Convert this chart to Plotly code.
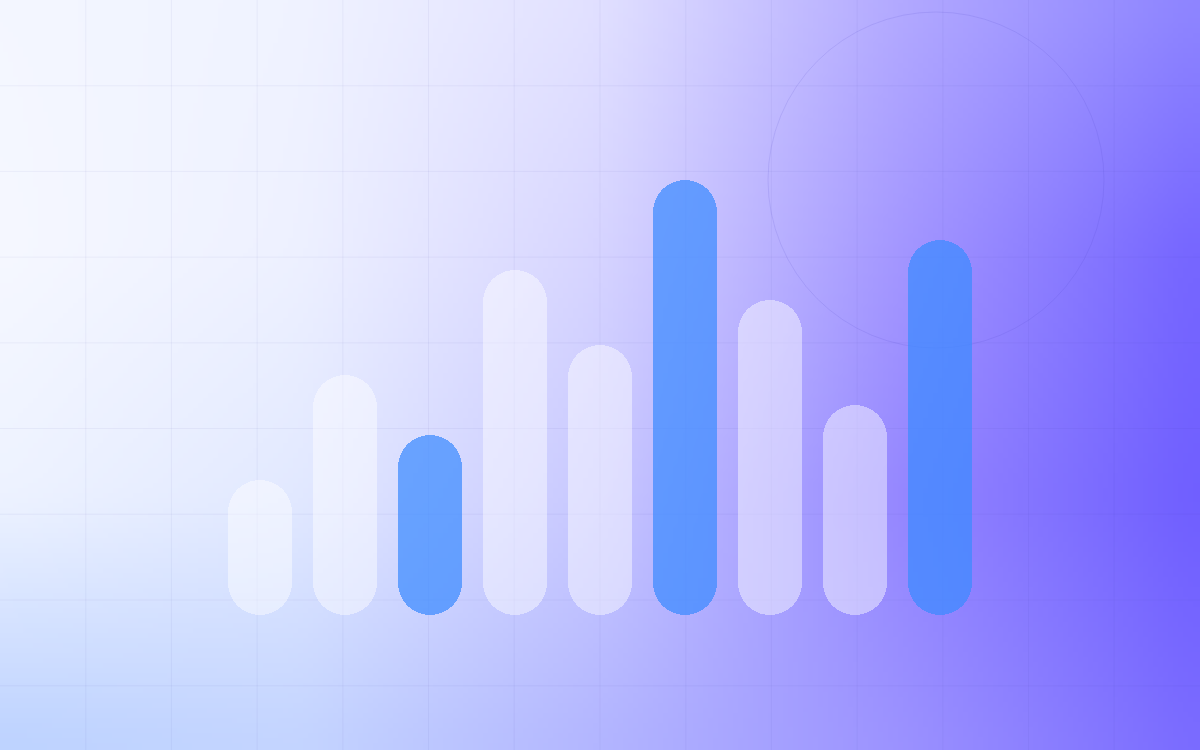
import base64
import struct
import zlib

import numpy as np
import plotly.graph_objects as go

# ---------------- data ----------------
categories = ["1", "2", "3", "4", "5", "6", "7", "8", "9"]
values = [45, 80, 60, 115, 90, 145, 105, 70, 125]
highlighted = [False, False, True, False, False, True, False, False, True]

# ---------------- styles ----------------
W, H = 1200, 750
BAR_PX = 64
STEP_PX = 85
FIRST_CENTER_PX = 260
BASELINE_PX = 615
PX_PER_UNIT = 3.0

BLUE = "rgba(60,138,255,0.72)"
WHITE = "rgba(255,255,255,0.45)"
GRID = "rgba(60,60,150,0.06)"
CIRCLE = "rgba(70,60,190,0.13)"

# background colour anchors (rows top->bottom, cols left->right)
bg_anchor_x = [0, 300, 600, 900, 1200]
bg_anchor_y = [0, 250, 500, 750]
bg_anchor_rgb = [
    [(244, 247, 255), (240, 243, 255), (226, 225, 255), (179, 170, 255), (142, 133, 255)],
    [(246, 248, 255), (238, 241, 255), (215, 213, 255), (164, 151, 255), (117, 101, 255)],
    [(238, 243, 255), (226, 233, 255), (200, 200, 255), (149, 135, 255), (111, 94, 255)],
    [(188, 210, 255), (195, 212, 255), (178, 181, 255), (156, 147, 255), (122, 107, 255)],
]


def build_background(w=240, h=150):
    ax = np.array(bg_anchor_x, float)
    ay = np.array(bg_anchor_y, float)
    A = np.array(bg_anchor_rgb, float)  # (ny, nx, 3)
    xs = np.linspace(0, W, w)
    ys = np.linspace(0, H, h)
    rows = np.stack([np.stack([np.interp(xs, ax, A[r, :, c]) for c in range(3)], -1)
                     for r in range(A.shape[0])])  # (ny, w, 3)
    img = np.stack([np.stack([np.interp(ys, ay, rows[:, i, c]) for i in range(w)], -1)
                    for c in range(3)], -1)  # (h, w, 3)
    for _ in range(6):
        p = np.pad(img, ((2, 2), (2, 2), (0, 0)), mode="edge")
        acc = np.zeros_like(img)
        for dy in range(5):
            for dx in range(5):
                acc += p[dy:dy + h, dx:dx + w]
        img = acc / 25.0
    return np.clip(img, 0, 255).astype(np.uint8)


def png_data_uri(arr):
    h, w, _ = arr.shape
    raw = b"".join(b"\x00" + arr[r].tobytes() for r in range(h))

    def chunk(t, d):
        c = struct.pack(">I", len(d)) + t + d
        return c + struct.pack(">I", zlib.crc32(t + d) & 0xFFFFFFFF)

    png = (b"\x89PNG\r\n\x1a\n"
           + chunk(b"IHDR", struct.pack(">IIBBBBB", w, h, 8, 2, 0, 0, 0))
           + chunk(b"IDAT", zlib.compress(raw, 9))
           + chunk(b"IEND", b""))
    return "data:image/png;base64," + base64.b64encode(png).decode()


# ---------------- figure ----------------
x_idx = list(range(len(categories)))
colors = [BLUE if h else WHITE for h in highlighted]
bar_width = BAR_PX / STEP_PX

fig = go.Figure()
# bars with an explicit base are rounded on both ends -> pill shapes
fig.add_trace(go.Bar(
    x=x_idx, y=values, base=[0 for _ in values],
    width=bar_width, marker=dict(color=colors, line=dict(width=0), cornerradius="50%"),
    hovertext=[f"{c}: {v}" for c, v in zip(categories, values)], hoverinfo="text",
    showlegend=False,
))

shapes = []
cell = W / 14
k = 1
while k * cell < W:
    shapes.append(dict(type="line", xref="paper", yref="paper",
                       x0=k * cell / W, x1=k * cell / W, y0=0, y1=1,
                       line=dict(color=GRID, width=1), layer="below"))
    k += 1
j = 1
while j * cell < H:
    yy = 1 - j * cell / H
    shapes.append(dict(type="line", xref="paper", yref="paper",
                       x0=0, x1=1, y0=yy, y1=yy,
                       line=dict(color=GRID, width=1), layer="below"))
    j += 1
cx, cy, r = 936, 180, 168
shapes.append(dict(type="circle", xref="paper", yref="paper",
                   x0=(cx - r) / W, x1=(cx + r) / W,
                   y0=1 - (cy + r) / H, y1=1 - (cy - r) / H,
                   line=dict(color=CIRCLE, width=1), fillcolor="rgba(0,0,0,0)",
                   layer="below"))

x_lo = -FIRST_CENTER_PX / STEP_PX
x_hi = (W - FIRST_CENTER_PX) / STEP_PX
y_lo = -(H - BASELINE_PX) / PX_PER_UNIT
y_hi = BASELINE_PX / PX_PER_UNIT

fig.update_layout(
    width=W, height=H,
    margin=dict(l=0, r=0, t=0, b=0),
    paper_bgcolor="#f4f7ff",
    plot_bgcolor="rgba(0,0,0,0)",
    barmode="overlay",
    bargap=0,
    showlegend=False,
    shapes=shapes,
    images=[dict(source=png_data_uri(build_background()), xref="paper", yref="paper",
                 x=0, y=1, sizex=1, sizey=1, xanchor="left", yanchor="top",
                 sizing="stretch", layer="below")],
    xaxis=dict(range=[x_lo, x_hi], visible=False, fixedrange=True),
    yaxis=dict(range=[y_lo, y_hi], visible=False, fixedrange=True),
)

fig.write_html(
    "out.html",
    config={"displayModeBar": False},
    post_script="document.body.style.margin='0';document.body.style.overflow='hidden';",
)
